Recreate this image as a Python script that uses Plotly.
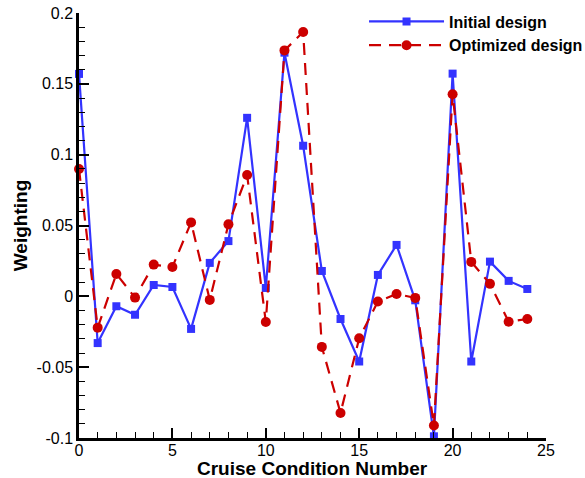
import plotly.graph_objects as go

x_cond = list(range(25))
initial = [0.157, -0.033, -0.007, -0.013, 0.008, 0.0066, -0.023, 0.0236, 0.039, 0.126,
           0.0059, 0.172, 0.1063, 0.0179, -0.016, -0.046, 0.0151, 0.0363, -0.0028, -0.0988,
           0.1572, -0.046, 0.0245, 0.0109, 0.0052]
optimized = [0.0899, -0.0221, 0.0158, -0.0009, 0.0224, 0.0207, 0.0522, -0.0025, 0.0508, 0.0857,
             -0.0181, 0.1736, 0.1866, -0.0357, -0.0823, -0.0296, -0.0037, 0.0017, -0.0011, -0.0912,
             0.1426, 0.0243, 0.0088, -0.0179, -0.016]
y_tickvals = [-0.1, -0.05, 0, 0.05, 0.1, 0.15, 0.2]
y_ticktext = ["-0.1", "-0.05", "0", "0.05", "0.1", "0.15", "0.2"]
x_tickvals = [0, 5, 10, 15, 20, 25]
x_title = "Cruise Condition Number"
y_title = "Weighting"

FONT = "Liberation Sans, Arial, sans-serif"

fig = go.Figure()
fig.add_trace(go.Scatter(
    x=x_cond, y=initial, mode="lines+markers", name="<b>Initial design</b>",
    line=dict(color="#3333ff", width=2.2),
    marker=dict(symbol="square", size=8, color="#3333ff"),
    cliponaxis=False,
))
fig.add_trace(go.Scatter(
    x=x_cond, y=optimized, mode="lines+markers", name="<b>Optimized design</b>",
    line=dict(color="#cc0000", width=2.2, dash="12px,8px"),
    marker=dict(symbol="circle", size=10, color="#cc0000"),
    cliponaxis=False,
))

axis_common = dict(
    showgrid=False, zeroline=False, showline=True, linecolor="black", linewidth=2.5,
    ticks="inside", ticklen=10, tickwidth=2, tickcolor="black", mirror=False,
    tickfont=dict(family=FONT, size=16, color="black"),
)
fig.update_xaxes(
    range=[0, 25], tickvals=x_tickvals, **axis_common, ticklabelstandoff=-4,
    minor=dict(dtick=1, ticks="inside", ticklen=6, tickwidth=1, tickcolor="black"),
)
fig.update_yaxes(
    range=[-0.1, 0.2], tickvals=y_tickvals, ticktext=y_ticktext, **axis_common,
    minor=dict(dtick=0.01, ticks="inside", ticklen=6, tickwidth=1, tickcolor="black"),
    title=dict(text="<b>" + y_title + "</b>", font=dict(family=FONT, size=19, color="black"), standoff=4),
)
fig.add_annotation(
    text="<b>" + x_title + "</b>", xref="paper", yref="paper",
    x=0.5, y=-40 / 425, xanchor="center", yanchor="bottom", yshift=-2,
    showarrow=False, borderpad=0, font=dict(family=FONT, size=19, color="black"),
)
fig.update_layout(
    width=585, height=478,
    margin=dict(l=79, r=39, t=13, b=40, autoexpand=False),
    plot_bgcolor="white", paper_bgcolor="white",
    font=dict(family=FONT, color="black"),
    legend=dict(x=1.09, xanchor="right", y=1.02, yanchor="top",
                bgcolor="rgba(0,0,0,0)", font=dict(family=FONT, size=16, color="black"),
                itemwidth=75, tracegroupgap=0),
)
fig.write_html("out.html")
